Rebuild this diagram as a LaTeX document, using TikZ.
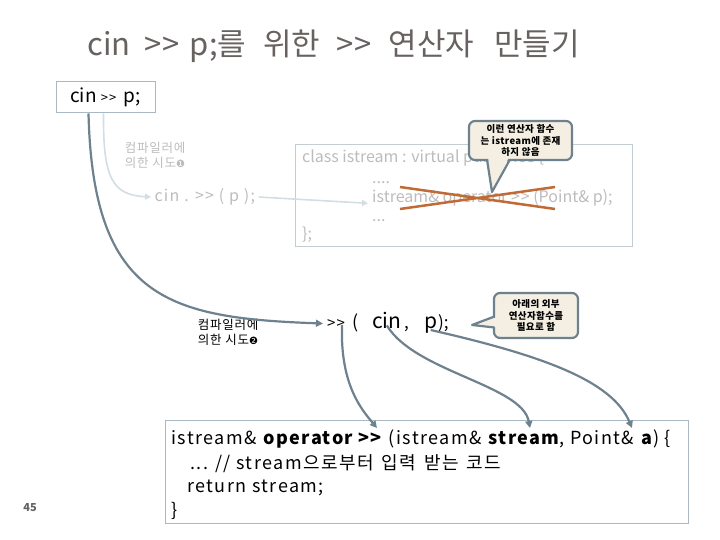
\documentclass[tikz,border=0pt]{standalone}
\usepackage{fontspec}
\setmainfont{Noto Sans CJK KR}
\newfontfamily\dingfont{DejaVu Sans}
\usetikzlibrary{arrows.meta}

\definecolor{titlegray}{HTML}{676260}
\definecolor{faint}{HTML}{BCBCBC}
\definecolor{faintline}{HTML}{D3DDE4}
\definecolor{boxline}{HTML}{A9B8C2}
\definecolor{arrowgray}{HTML}{6E818E}
\definecolor{callfill}{HTML}{F4EFE2}
\definecolor{crossline}{HTML}{C06A36}

\newcommand\shr{>\kern1pt>}
\newcommand\fs[1]{\fontsize{#1}{#1}\selectfont}
\newcommand\spaced[1]{\addfontfeature{LetterSpace=#1}}

\tikzset{
  codebox/.style={draw=boxline, line width=0.9pt, inner sep=0pt},
  faintarrow/.style={draw=faintline, line width=1.6pt, -{Triangle[length=6pt,width=6pt]}},
  darkarrow/.style={draw=arrowgray, line width=2.2pt, -{Triangle[length=7pt,width=7pt]}},
  callout/.style={fill=callfill, draw=arrowgray, line width=2.2pt, rounded corners=6pt,
    inner sep=0pt, align=center, font={\fontsize{9.5}{11.5}\selectfont\bfseries\spaced{4}}},
  trylabel/.style={align=center, font={\fontsize{12.5}{15}\selectfont\spaced{6}}},
  codeline/.style={anchor=base west, inner sep=0pt},
}

\begin{document}
\begin{tikzpicture}[x=1pt,y=-1pt]
\useasboundingbox (0,0) rectangle (720,540);

\node[font=\fs{31}, text=titlegray, anchor=base west, inner sep=0pt] (title) at (87,56)
  {cin\hspace{14pt}\shr\hspace{10pt}p;를\hspace{17pt}위한\hspace{16pt}\shr\hspace{17pt}연산자\hspace{20pt}만들기};
\node[draw=boxline, line width=1pt, minimum width=99pt, minimum height=31pt, inner sep=0pt] (stmt) at (105.5,97.5)
  {\fs{19}cin {\fs{13}\shr}\, p;\hspace{6pt}};

% first try (member function)
\node[trylabel, text=faint] (try1lbl) at (155,155) {컴파일러에\\ 의한 시도{\dingfont\fs{10}❶}};
\node[text=faint, font=\fs{16}\spaced{8}, anchor=west] (try1) at (151,197) {cin . \shr{} ( p );};

\node[codebox, draw=boxline!70, minimum width=337pt, minimum height=102pt] (classbox) at (463.5,195) {};
\begin{scope}[text=faint, font=\fs{16}]
  \node[codeline] (clsline) at (302,163) {class istream : virtual public ios \{};
  \node[codeline] (dots1) at (372,184) {....};
  \node[codeline] (opline) at (372,203) {istream\& operator \shr{} (Point\& p);};
  \node[codeline] (dots2) at (372,222) {...};
  \node[codeline] (clsend) at (302,240) {\};};
\end{scope}
\draw[crossline, line width=2.5pt] (400,187) -- (555,209) (400,209) -- (555,187);

\draw[faintarrow] ([xshift=-2pt]stmt.south) .. controls (103,178) and (112,195) .. (try1.west);
\draw[faintarrow] (try1.east) -- ([xshift=-4pt,yshift=-5pt]opline.west);

\node[callout, minimum width=103pt, minimum height=39pt] (nomember) at (520.5,140.5)
  {이런 연산자 함수\\는 istream에 존재\\하지 않음};
\fill[callfill] (488,157) -- (492,192) -- (509,157) -- cycle;
\draw[arrowgray, line width=2.2pt, line join=round] (487,159.5) -- (492,192) -- (510,159.5);

% second try (outside function)
\node[trylabel] (try2lbl) at (228,332) {컴파일러에\\ 의한 시도{\dingfont\fs{10}❷}};
\node[codeline, font=\fs{15}] (callgt) at (327,328) {\shr};
\node[codeline, font=\fs{18}] (callpar) at (352,328) {(};
\node[codeline, font=\fs{21}] (callcin) at (372,328) {cin};
\node[codeline, font=\fs{17}] (callcomma) at (404,328) {,};
\node[codeline, font=\fs{21}] (callp) at (424,328) {p};
\node[codeline, font=\fs{17}] (callend) at (438,328) {);};

\node[callout, minimum width=84pt, minimum height=45pt] (needfunc) at (536,315.5)
  {아래의 외부\\연산자함수를\\필요로 함};
\fill[callfill] (497,317) -- (472,325) -- (497,327) -- cycle;
\draw[arrowgray, line width=2.2pt, line join=round] (494.5,316.5) -- (472,325) -- (494.5,327.5);

\draw[darkarrow] ([xshift=-17pt]stmt.south) .. controls (93,300) and (170,318) .. ([xshift=-4pt]callgt.west);

\node[codebox, minimum width=523pt, minimum height=103pt] (opfunc) at (426.5,471.5) {};
\begin{scope}[font=\fs{18}\spaced{8}]
  \node[codeline] (fnhead) at (171,444) {istream\& \textbf{operator \shr} (istream\& \textbf{stream}, Point\& \textbf{a}) \{};
  \node[codeline] (fnbody) at (190,469) {... // stream으로부터\hspace{8pt}입력\hspace{8pt}받는\hspace{8pt}코드};
  \node[codeline] (fnret) at (187,492) {return stream;};
  \node[codeline] (fnend) at (171,516) {\}};
\end{scope}
\coordinate (gtword) at (377,428);
\coordinate (streamword) at (530,428);
\coordinate (aword) at (632,428);

\draw[darkarrow] ([xshift=6pt,yshift=3pt]callgt.south) .. controls (340,385) and (362,410) .. (gtword);
\draw[darkarrow] ([yshift=3pt]callcin.south) .. controls (415,372) and (522,385) .. (streamword);
\draw[darkarrow] ([yshift=3pt]callp.south) .. controls (540,355) and (612,380) .. (aword);

\node[font=\fs{11}\bfseries, text=titlegray] (pagenum) at (30,508) {45};
\end{tikzpicture}
\end{document}
